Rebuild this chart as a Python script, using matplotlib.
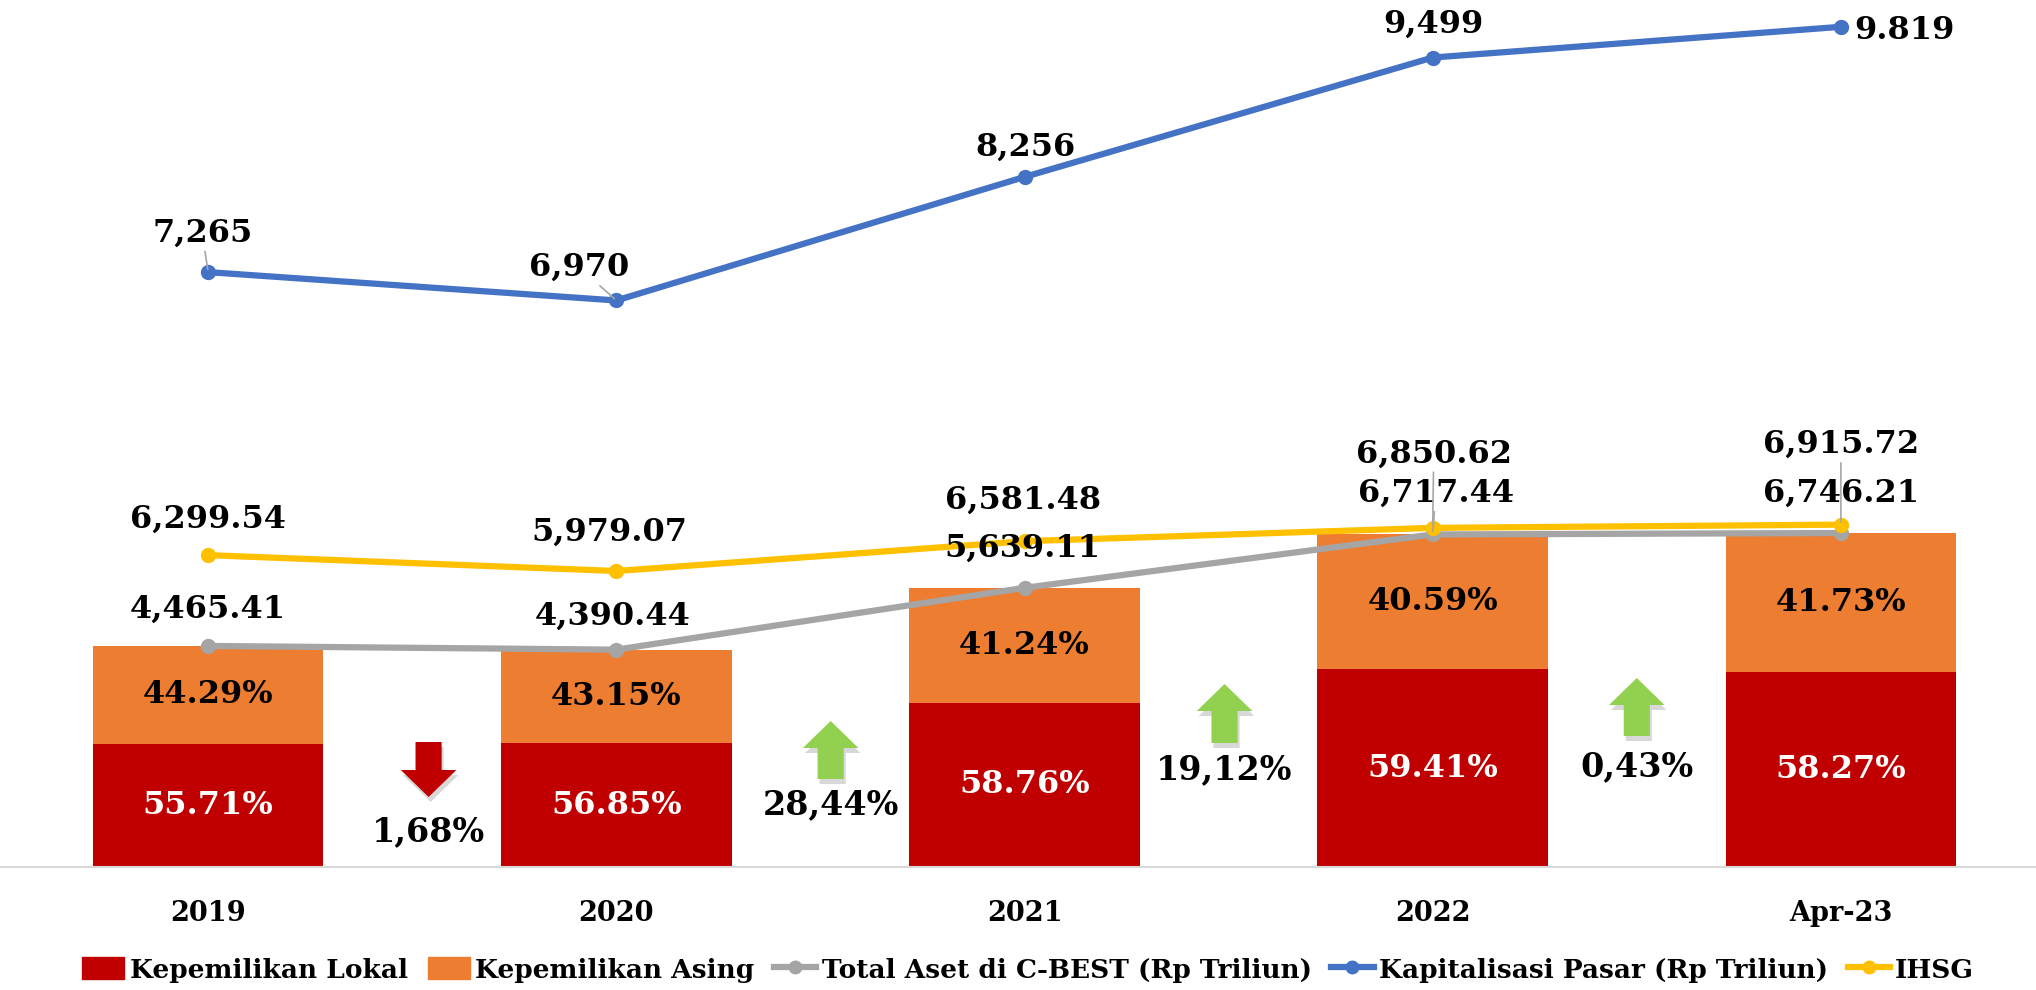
import matplotlib.pyplot as plt
import matplotlib.transforms as mtransforms
from matplotlib.lines import Line2D
from matplotlib.patches import Patch, Polygon

categories = ["2019", "2020", "2021", "2022", "Apr-23"]
total_aset = [4465.41, 4390.44, 5639.11, 6717.44, 6746.21]
lokal_pct = [55.71, 56.85, 58.76, 59.41, 58.27]
asing_pct = [44.29, 43.15, 41.24, 40.59, 41.73]
ihsg = [6299.54, 5979.07, 6581.48, 6850.62, 6915.72]
kapitalisasi = [7265, 6970, 8256, 9499, 9819]
kap_labels = ["7,265", "6,970", "8,256", "9,499", "9.819"]
growth_labels = ["1,68%", "28,44%", "19,12%", "0,43%"]
growth_up = [False, True, True, True]

C_LOKAL = "#C00000"
C_ASING = "#ED7D31"
C_GREY = "#A5A5A5"
C_BLUE = "#4472C4"
C_YELLOW = "#FFC000"
C_GREEN = "#92D050"

W, H = 2036, 990
BASE = 867  # pixel row of the category axis
LBL = 23

plt.rcParams["font.family"] = ["DejaVu Serif"]
plt.rcParams["font.weight"] = "bold"

fig = plt.figure(figsize=(W / 100, H / 100), dpi=100)
ax = fig.add_axes([0, (H - BASE) / H, 1, BASE / H])
ax2 = ax.twinx()

x = list(range(len(categories)))
lokal = [t * p / 100 for t, p in zip(total_aset, lokal_pct)]
asing = [t * p / 100 for t, p in zip(total_aset, asing_pct)]

ax.bar(x, lokal, width=0.565, color=C_LOKAL, zorder=2)
ax.bar(x, asing, width=0.565, bottom=lokal, color=C_ASING, zorder=2)
for i in x:
    ax.text(i, lokal[i] / 2, f"{lokal_pct[i]:.2f}%", ha="center", va="center",
            color="white", fontsize=LBL, zorder=3)
    ax.text(i, lokal[i] + asing[i] / 2, f"{asing_pct[i]:.2f}%", ha="center", va="center",
            color="black", fontsize=LBL, zorder=3)

ax.plot(x, total_aset, color=C_GREY, lw=4.5, marker="o", ms=10, zorder=4)
ax.plot(x, ihsg, color=C_YELLOW, lw=4.5, marker="o", ms=10, zorder=5)
ax2.plot(x, kapitalisasi, color=C_BLUE, lw=4.5, marker="o", ms=10, zorder=5)

ax.set_xlim(-0.51, 4.478)
ax.set_ylim(0, BASE * 20.2)
ax2.set_ylim(1072, 10098)

leader = dict(arrowstyle="-", color="#A6A6A6", lw=1.2, shrinkA=0, shrinkB=2)

# label offsets in pixels (dx, dy)
grey_off = [(0, 37), (-4, 33), (-2, 40), (3, 41), (0, 40)]
ihsg_off = [(0, 36), (-7, 39), (-1, 41), (1, 74), (0, 80)]
kap_off = [(-6, 39), (-37, 33), (1, 30), (1, 33), (64, -4)]
grey_lead = [False, False, False, True, False]
ihsg_lead = [False, False, False, True, True]
kap_lead = [True, True, False, False, False]

for i in x:
    ax.annotate(f"{total_aset[i]:,.2f}", (i, total_aset[i]), xytext=grey_off[i],
                textcoords="offset pixels", ha="center", va="center", fontsize=LBL,
                zorder=6, arrowprops=leader if grey_lead[i] else None)
    ax.annotate(f"{ihsg[i]:,.2f}", (i, ihsg[i]), xytext=ihsg_off[i],
                textcoords="offset pixels", ha="center", va="center", fontsize=LBL,
                zorder=6, arrowprops=leader if ihsg_lead[i] else None)
    ax2.annotate(kap_labels[i], (i, kapitalisasi[i]), xytext=kap_off[i],
                 textcoords="offset pixels", ha="center", va="center", fontsize=LBL,
                 zorder=6, arrowprops=leader if kap_lead[i] else None)

# growth arrows between the bars
growth_x = [0.54, 1.525, 2.49, 3.5]
arrow_tail = [742, 779, 743, 736]
arrow_tip = [797, 721, 684, 678]
growth_text_y = [832, 805, 770, 767]
trans = mtransforms.blended_transform_factory(ax.transData, ax.transAxes)
shadow = mtransforms.offset_copy(trans, fig=fig, x=2, y=-5, units="dots")
shaft_w, head_w, head_len = 0.032, 0.068, 27


def frac(py):
    return (BASE - py) / BASE


for gx, tail, tip, ty, up, lab in zip(growth_x, arrow_tail, arrow_tip, growth_text_y,
                                      growth_up, growth_labels):
    sign = -1 if up else 1
    neck = tip - sign * head_len
    pts = [(gx - shaft_w, frac(tail)), (gx + shaft_w, frac(tail)),
           (gx + shaft_w, frac(neck)), (gx + head_w, frac(neck)),
           (gx, frac(tip)), (gx - head_w, frac(neck)), (gx - shaft_w, frac(neck))]
    ax.add_patch(Polygon(pts, closed=True, transform=shadow, color="#7F7F7F",
                         alpha=0.3, lw=0, zorder=2))
    ax.add_patch(Polygon(pts, closed=True, transform=trans,
                         color=C_GREEN if up else C_LOKAL, lw=0, zorder=3))
    ax.text(gx, frac(ty), lab, transform=trans, ha="center", va="center",
            fontsize=24, zorder=3)

for a in (ax, ax2):
    for side in ("top", "left", "right"):
        a.spines[side].set_visible(False)
    a.set_yticks([])
ax2.spines["bottom"].set_visible(False)
ax.spines["bottom"].set_color("#D9D9D9")
ax.spines["bottom"].set_linewidth(1.5)
ax.set_xticks(x)
ax.set_xticklabels(categories, fontsize=19.5)
ax.tick_params(axis="x", length=0, pad=24)

handles = [
    Patch(color=C_LOKAL, label="Kepemilikan Lokal"),
    Patch(color=C_ASING, label="Kepemilikan Asing"),
    Line2D([], [], color=C_GREY, lw=4.5, marker="o", ms=9, label="Total Aset di C-BEST (Rp Triliun)"),
    Line2D([], [], color=C_BLUE, lw=4.5, marker="o", ms=9, label="Kapitalisasi Pasar (Rp Triliun)"),
    Line2D([], [], color=C_YELLOW, lw=4.5, marker="o", ms=9, label="IHSG"),
]
fig.legend(handles=handles, loc="center", bbox_to_anchor=(0.505, 1 - 970 / H), ncol=5,
           frameon=False, fontsize=19, handlelength=1.6, handletextpad=0.2,
           columnspacing=0.75, handleheight=0.9)

fig.savefig("out.png", dpi=100)
